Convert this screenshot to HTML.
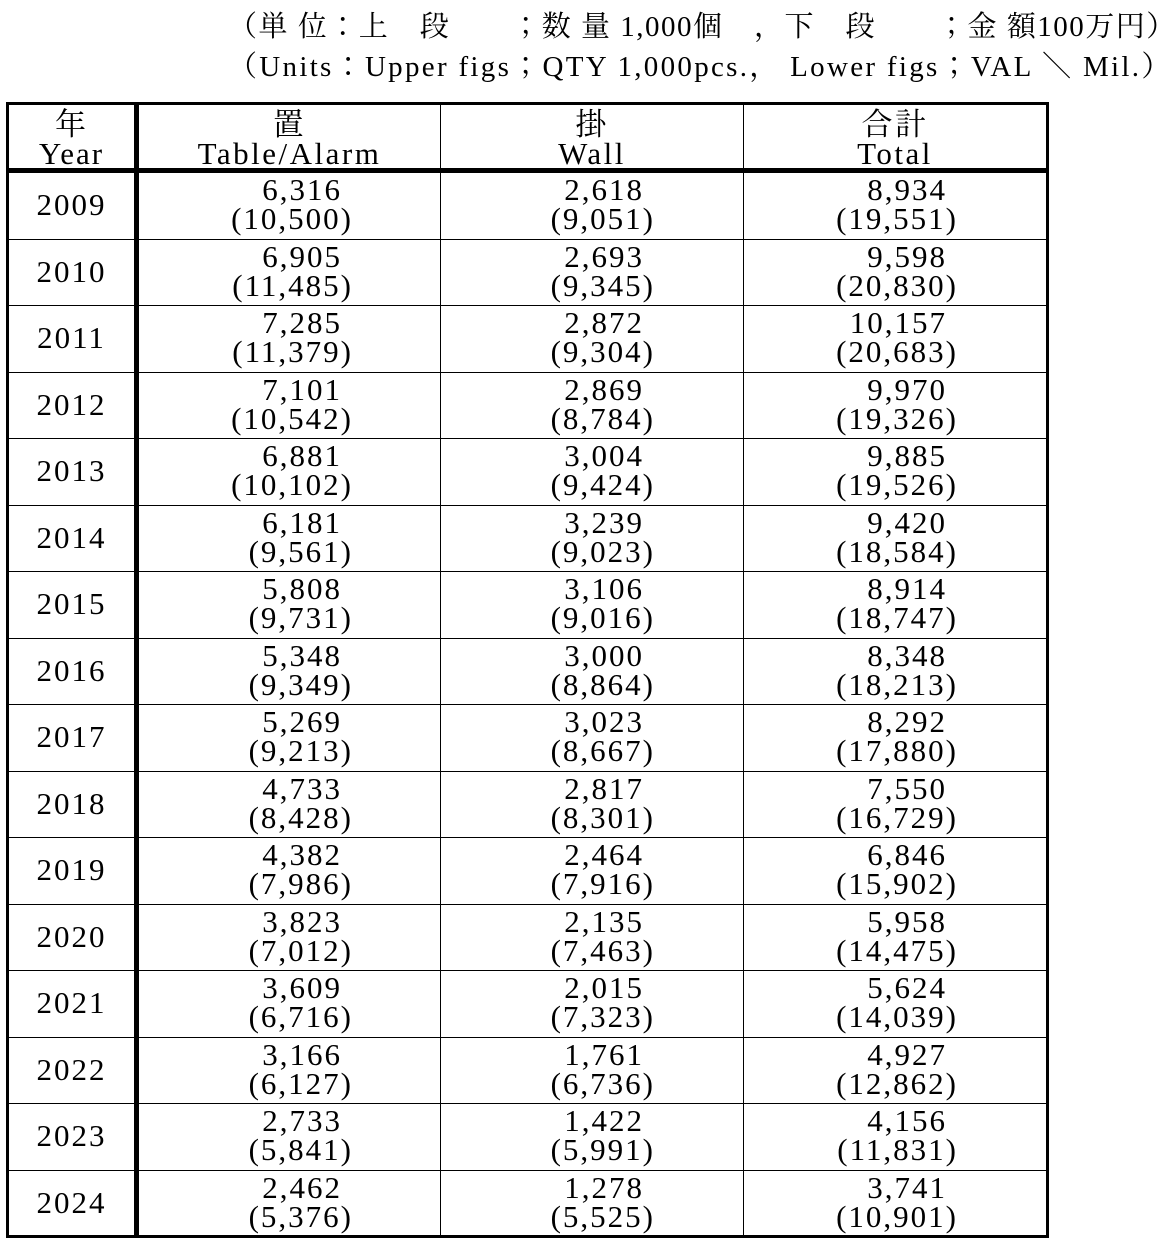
<!DOCTYPE html>
<html><head><meta charset="utf-8"><style>
html,body{margin:0;padding:0;background:#fff;width:1170px;height:1244px;overflow:hidden}
body{position:relative;font-family:"Liberation Serif","Noto Serif CJK JP",serif;color:#000}
.t{position:absolute;font-size:29px;white-space:pre;line-height:40px}
.l{position:absolute;background:#000}
.c{position:absolute;font-size:31px;letter-spacing:2px;line-height:29px;white-space:pre}
.r{text-align:right}
.ctr{text-align:center}
</style></head><body>
<div class="t" style="left:228px;top:7px;letter-spacing:1.5px">（単 位：上　段　　；数 量 1,000個　，下　段　　；金 額100万円）</div>
<div class="t" style="left:228px;top:47px;letter-spacing:2.3px">（Units：Upper figs；QTY 1,000pcs.， Lower figs；VAL ＼ Mil.）</div>
<div id="grid"></div>
<script>
var g=document.getElementById('grid'),h='';
function L(x,y,w,hh){h+='<div class="l" style="left:'+x+'px;top:'+y+'px;width:'+w+'px;height:'+hh+'px"></div>';}
L(6,102,1043,3);L(6,1235,1043,3);L(6,102,3,1136);L(1046,102,3,1136);
L(134,102,5,1136);L(6,168,1043,5);
L(440,102,1,1136);L(743,102,1,1136);
var top0=172,rh=66.5;
for(var i=1;i<16;i++){L(6,Math.round(top0+i*rh),1043,1);}
function C(x,y,w,txt,cls,fs,ls){h+='<div class="c '+cls+'" style="left:'+x+'px;top:'+y+'px;width:'+w+'px'+(fs?';font-size:'+fs+'px;letter-spacing:'+ls+'px':'')+'">'+txt+'</div>';}
C(9,110,125,'年\nYear','ctr',31,2);
C(139,110,301,'置\nTable/Alarm','ctr',31,2.5);
C(441,110,302,'掛\nWall','ctr',31,2.5);
C(744,110,302,'合計\nTotal','ctr',31,2.5);
var d=[[2009,'6,316','10,500','2,618','9,051','8,934','19,551'],
[2010,'6,905','11,485','2,693','9,345','9,598','20,830'],
[2011,'7,285','11,379','2,872','9,304','10,157','20,683'],
[2012,'7,101','10,542','2,869','8,784','9,970','19,326'],
[2013,'6,881','10,102','3,004','9,424','9,885','19,526'],
[2014,'6,181','9,561','3,239','9,023','9,420','18,584'],
[2015,'5,808','9,731','3,106','9,016','8,914','18,747'],
[2016,'5,348','9,349','3,000','8,864','8,348','18,213'],
[2017,'5,269','9,213','3,023','8,667','8,292','17,880'],
[2018,'4,733','8,428','2,817','8,301','7,550','16,729'],
[2019,'4,382','7,986','2,464','7,916','6,846','15,902'],
[2020,'3,823','7,012','2,135','7,463','5,958','14,475'],
[2021,'3,609','6,716','2,015','7,323','5,624','14,039'],
[2022,'3,166','6,127','1,761','6,736','4,927','12,862'],
[2023,'2,733','5,841','1,422','5,991','4,156','11,831'],
[2024,'2,462','5,376','1,278','5,525','3,741','10,901']];
var rights=[342,644,947];
for(var i=0;i<16;i++){
 var y=Math.round(top0+i*rh);
 C(9,y+18,125,''+d[i][0],'ctr');
 for(var k=0;k<3;k++){
  var R=rights[k];
  C(R-200,y+3,200,d[i][1+2*k],'r');
  C(R-200+11,y+32,200,'('+d[i][2+2*k]+')','r');
 }
}
g.innerHTML=h;
</script>
</body></html>
